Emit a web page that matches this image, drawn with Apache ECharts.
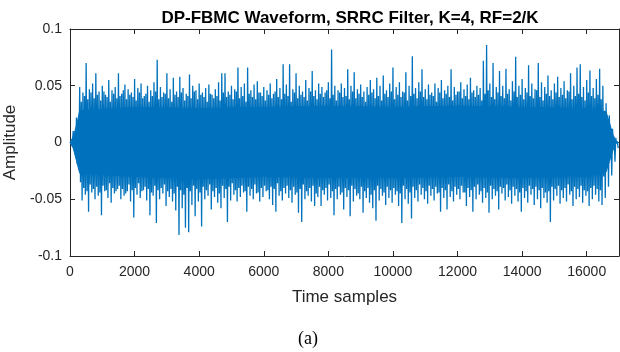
<!DOCTYPE html>
<html>
<head>
<meta charset="utf-8">
<script src="https://cdn.jsdelivr.net/npm/echarts@6/dist/echarts.min.js"></script>
<style>
html, body { margin: 0; padding: 0; background: #fff; }
#chart { width: 620px; height: 352px; }
</style>
</head>
<body>
<div id="chart"></div>
<script>
// each block of 100 samples: outer peaks (tallest spikes) and inner swings
const binSize = 100
const peakUp = [
  0, 0.010, 0.022, 0.049, 0.044, 0.070, 0.047, 0.052, 0.061, 0.045,
  0.050, 0.042, 0.055, 0.046, 0.049, 0.061, 0.043, 0.051, 0.047, 0.044,
  0.056, 0.048, 0.052, 0.041, 0.050, 0.046, 0.053, 0.073, 0.049, 0.044,
  0.061, 0.047, 0.057, 0.045, 0.058, 0.048, 0.043, 0.060, 0.050, 0.046,
  0.052, 0.044, 0.048, 0.051, 0.042, 0.047, 0.053, 0.061, 0.061, 0.045,
  0.050, 0.047, 0.066, 0.049, 0.052, 0.066, 0.046, 0.051, 0.054, 0.044,
  0.049, 0.046, 0.052, 0.043, 0.056, 0.048, 0.069, 0.051, 0.069, 0.047,
  0.061, 0.050, 0.045, 0.055, 0.048, 0.063, 0.046, 0.052, 0.049, 0.044,
  0.053, 0.082, 0.050, 0.046, 0.052, 0.048, 0.0645, 0.050, 0.062, 0.047,
  0.051, 0.045, 0.049, 0.055, 0.047, 0.057, 0.050, 0.059, 0.046, 0.052,
  0.066, 0.049, 0.053, 0.045, 0.062, 0.050, 0.076, 0.048, 0.053, 0.0645,
  0.047, 0.051, 0.044, 0.052, 0.048, 0.055, 0.046, 0.050, 0.0645, 0.049,
  0.045, 0.053, 0.047, 0.051, 0.057, 0.046, 0.050, 0.048, 0.072, 0.086,
  0.052, 0.070, 0.049, 0.063, 0.050, 0.065, 0.047, 0.054, 0.0756, 0.050,
  0.056, 0.048, 0.068, 0.052, 0.047, 0.070, 0.053, 0.049, 0.059, 0.046,
  0.052, 0.058, 0.048, 0.054, 0.046, 0.061, 0.050, 0.066, 0.069, 0.049,
  0.055, 0.0635, 0.048, 0.056, 0.065, 0.050, 0.0345, 0.024, 0.012, 0.004
]
const peakDown = [
  0, -0.009, -0.024, -0.051, -0.046, -0.061, -0.044, -0.050, -0.047, -0.064,
  -0.043, -0.049, -0.053, -0.045, -0.041, -0.050, -0.047, -0.043, -0.052, -0.066,
  -0.046, -0.049, -0.042, -0.051, -0.064, -0.047, -0.071, -0.050, -0.045, -0.056,
  -0.048, -0.052, -0.060, -0.0815, -0.058, -0.075, -0.079, -0.055, -0.065, -0.052,
  -0.074, -0.050, -0.047, -0.059, -0.048, -0.053, -0.058, -0.049, -0.070, -0.051,
  -0.046, -0.052, -0.048, -0.044, -0.061, -0.047, -0.050, -0.045, -0.052, -0.048,
  -0.043, -0.050, -0.055, -0.061, -0.047, -0.051, -0.045, -0.049, -0.053, -0.046,
  -0.062, -0.070, -0.050, -0.047, -0.052, -0.056, -0.048, -0.056, -0.046, -0.051,
  -0.049, -0.064, -0.050, -0.046, -0.059, -0.048, -0.065, -0.052, -0.047, -0.050,
  -0.062, -0.049, -0.053, -0.058, -0.069, -0.051, -0.047, -0.055, -0.049, -0.053,
  -0.046, -0.056, -0.071, -0.050, -0.054, -0.067, -0.049, -0.052, -0.046, -0.050,
  -0.054, -0.047, -0.051, -0.045, -0.061, -0.049, -0.059, -0.048, -0.052, -0.046,
  -0.050, -0.044, -0.056, -0.048, -0.061, -0.050, -0.046, -0.053, -0.049, -0.062,
  -0.050, -0.047, -0.059, -0.045, -0.051, -0.048, -0.054, -0.047, -0.052, -0.061,
  -0.049, -0.053, -0.046, -0.055, -0.050, -0.058, -0.049, -0.053, -0.070, -0.051,
  -0.047, -0.054, -0.049, -0.052, -0.046, -0.056, -0.050, -0.048, -0.053, -0.047,
  -0.056, -0.050, -0.046, -0.052, -0.055, -0.049, -0.039, -0.029, -0.017, -0.005
]
const innerUp = [
  0, 0.006, 0.018, 0.036, 0.041, 0.038, 0.044, 0.039, 0.042, 0.037,
  0.045, 0.040, 0.036, 0.043, 0.039, 0.041, 0.046, 0.038, 0.042, 0.040,
  0.037, 0.044, 0.039, 0.043, 0.036, 0.041, 0.045, 0.038, 0.040, 0.043,
  0.039, 0.036, 0.042, 0.040, 0.044, 0.037, 0.041, 0.039, 0.045, 0.038,
  0.042, 0.040, 0.036, 0.043, 0.039, 0.041, 0.037, 0.044, 0.040, 0.042,
  0.038, 0.045, 0.039, 0.041, 0.036, 0.043, 0.040, 0.038, 0.044, 0.041,
  0.037, 0.042, 0.039, 0.045, 0.040, 0.038, 0.043, 0.041, 0.036, 0.044,
  0.039, 0.042, 0.040, 0.037, 0.045, 0.041, 0.038, 0.043, 0.040, 0.046,
  0.039, 0.042, 0.037, 0.044, 0.040, 0.041, 0.038, 0.045, 0.039, 0.043,
  0.040, 0.036, 0.042, 0.044, 0.039, 0.041, 0.037, 0.043, 0.040, 0.045,
  0.038, 0.042, 0.040, 0.044, 0.037, 0.041, 0.043, 0.039, 0.045, 0.040,
  0.038, 0.042, 0.041, 0.036, 0.044, 0.039, 0.043, 0.040, 0.037, 0.042,
  0.045, 0.039, 0.041, 0.038, 0.044, 0.040, 0.042, 0.037, 0.043, 0.046,
  0.040, 0.038, 0.044, 0.041, 0.039, 0.043, 0.037, 0.045, 0.040, 0.042,
  0.038, 0.044, 0.041, 0.039, 0.046, 0.040, 0.037, 0.043, 0.041, 0.038,
  0.044, 0.040, 0.042, 0.039, 0.045, 0.038, 0.041, 0.043, 0.040, 0.037,
  0.044, 0.041, 0.039, 0.042, 0.038, 0.028, 0.020, 0.012, 0.005, 0.001
]
const innerDown = [
  0, -0.005, -0.019, -0.035, -0.040, -0.043, -0.037, -0.041, -0.039, -0.044,
  -0.038, -0.042, -0.036, -0.040, -0.043, -0.038, -0.041, -0.045, -0.037, -0.042,
  -0.040, -0.036, -0.043, -0.039, -0.041, -0.044, -0.038, -0.042, -0.040, -0.037,
  -0.043, -0.041, -0.045, -0.039, -0.042, -0.046, -0.040, -0.043, -0.038, -0.041,
  -0.044, -0.039, -0.042, -0.037, -0.043, -0.040, -0.045, -0.038, -0.041, -0.039,
  -0.036, -0.042, -0.040, -0.038, -0.043, -0.039, -0.041, -0.037, -0.044, -0.040,
  -0.038, -0.042, -0.039, -0.041, -0.036, -0.043, -0.040, -0.038, -0.042, -0.039,
  -0.044, -0.041, -0.037, -0.043, -0.040, -0.038, -0.045, -0.039, -0.042, -0.040,
  -0.037, -0.043, -0.041, -0.039, -0.044, -0.040, -0.042, -0.038, -0.041, -0.045,
  -0.039, -0.043, -0.040, -0.046, -0.042, -0.038, -0.041, -0.044, -0.039, -0.042,
  -0.040, -0.043, -0.045, -0.038, -0.041, -0.044, -0.039, -0.042, -0.037, -0.040,
  -0.043, -0.038, -0.041, -0.039, -0.044, -0.040, -0.042, -0.037, -0.043, -0.039,
  -0.041, -0.038, -0.044, -0.040, -0.042, -0.039, -0.037, -0.043, -0.040, -0.044,
  -0.038, -0.041, -0.043, -0.039, -0.040, -0.037, -0.042, -0.039, -0.041, -0.044,
  -0.040, -0.043, -0.038, -0.041, -0.039, -0.042, -0.040, -0.044, -0.043, -0.039,
  -0.041, -0.038, -0.042, -0.040, -0.037, -0.043, -0.039, -0.041, -0.038, -0.042,
  -0.043, -0.040, -0.038, -0.041, -0.042, -0.030, -0.021, -0.012, -0.004, -0.001
]
// dense inner band of the waveform
const coreX = [0, 100, 200, 300, 2000, 4000, 6000, 8000, 10000, 12000, 14000, 16000, 16600, 16700, 16800, 16900, 17000]
const coreUp = [0, 0.005, 0.015, 0.028, 0.031, 0.030, 0.031, 0.032, 0.031, 0.032, 0.031, 0.030, 0.027, 0.018, 0.008, 0, 0]
const coreDown = [0, -0.005, -0.016, -0.027, -0.030, -0.032, -0.030, -0.031, -0.031, -0.030, -0.031, -0.030, -0.026, -0.017, -0.008, 0, 0]

const xTicks = [0, 2000, 4000, 6000, 8000, 10000, 12000, 14000, 16000]
const yTicks = [-0.1, -0.05, 0, 0.05, 0.1]
const xMax = 17000

const blue = '#0072BD'
const ink = '#262626'

const wave = []
peakUp.forEach((v, i) => {
  const x0 = i * binSize
  wave.push([x0, v])
  wave.push([x0 + binSize / 4, innerDown[i]])
  wave.push([x0 + binSize / 2, innerUp[i]])
  wave.push([x0 + binSize * 3 / 4, peakDown[i]])
})

const chart = echarts.init(document.getElementById('chart'), null, { renderer: 'canvas' })

const baseAxis = {
  axisLine: { show: true, onZero: false, lineStyle: { color: ink, width: 1 } },
  axisTick: { show: true, inside: true, length: 5, lineStyle: { color: ink } },
  splitLine: { show: false },
}

chart.setOption({
  animation: false,
  textStyle: { fontFamily: 'Liberation Sans, Arial, sans-serif' },
  title: {
    text: 'DP-FBMC Waveform, SRRC Filter, K=4, RF=2/K',
    left: 345,
    top: 5,
    textAlign: 'center',
    textStyle: { fontSize: 17, fontWeight: 'bold', color: '#000', fontFamily: 'Liberation Sans, Arial, sans-serif' },
  },
  grid: { left: 70, right: 1, top: 29, bottom: 96, outerBoundsMode: 'none' },
  xAxis: [
    {
      ...baseAxis,
      type: 'value',
      min: xTicks[0],
      max: xMax,
      interval: 2000,
      position: 'bottom',
      name: 'Time samples',
      nameLocation: 'middle',
      nameGap: 33,
      nameTextStyle: { fontSize: 17, color: ink },
      axisLabel: {
        fontSize: 14, color: ink, margin: 9, showMaxLabel: false,
        formatter: (v) => (xTicks.includes(v) ? String(v) : ''),
      },
    },
    {
      ...baseAxis,
      type: 'value',
      min: xTicks[0],
      max: xMax,
      interval: 2000,
      position: 'top',
      axisLabel: { show: false },
    },
  ],
  yAxis: [
    {
      ...baseAxis,
      type: 'value',
      min: yTicks[0],
      max: yTicks[yTicks.length - 1],
      interval: 0.05,
      position: 'left',
      name: 'Amplitude',
      nameLocation: 'middle',
      nameGap: 42,
      nameTextStyle: { fontSize: 17, color: ink },
      axisLabel: { fontSize: 14, color: ink, margin: 8 },
    },
    {
      ...baseAxis,
      type: 'value',
      min: yTicks[0],
      max: yTicks[yTicks.length - 1],
      interval: 0.05,
      position: 'right',
      axisLabel: { show: false },
    },
  ],
  graphic: [
    {
      type: 'text',
      left: 298,
      top: 330,
      style: { text: '(a)', fontSize: 18, fill: '#000', fontFamily: 'Liberation Serif, Times New Roman, serif' },
    },
  ],
  series: [
    {
      type: 'line',
      data: coreX.map((x, i) => [x, coreUp[i]]),
      showSymbol: false,
      silent: true,
      lineStyle: { color: blue, width: 1 },
      areaStyle: { color: blue, opacity: 1 },
    },
    {
      type: 'line',
      data: coreX.map((x, i) => [x, coreDown[i]]),
      showSymbol: false,
      silent: true,
      lineStyle: { color: blue, width: 1 },
      areaStyle: { color: blue, opacity: 1 },
    },
    {
      type: 'line',
      data: wave,
      showSymbol: false,
      silent: true,
      sampling: null,
      lineStyle: { color: blue, width: 1.3 },
    },
  ],
})
</script>
</body>
</html>
